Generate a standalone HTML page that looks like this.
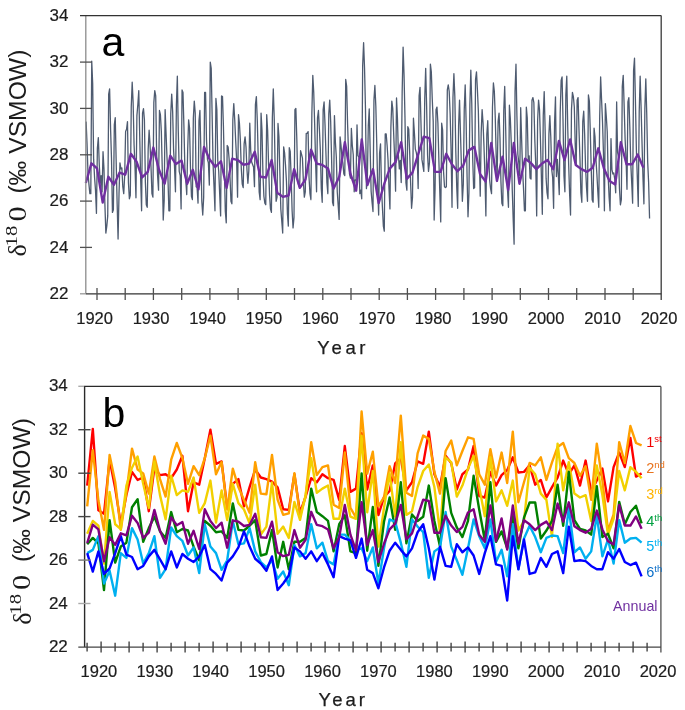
<!DOCTYPE html><html><head><meta charset="utf-8"><title>d18O chart</title><style>html,body{margin:0;padding:0;background:#fff;}svg{display:block;filter:blur(0.35px);}</style></head><body>
<svg width="685" height="710" viewBox="0 0 685 710">
<rect width="685" height="710" fill="#fff"/>
<polyline fill="none" stroke="#4e5b70" stroke-width="1.3" stroke-linejoin="round" points="86.10,121.64 87.04,143.87 87.98,173.06 88.92,184.17 89.86,193.67 90.80,193.67 91.74,61.19 92.68,83.89 93.63,159.39 94.57,177.46 95.51,190.19 96.45,213.35 97.39,148.04 98.33,137.62 99.27,164.49 100.21,183.25 101.15,175.60 102.09,191.82 103.03,151.75 103.97,168.89 104.91,204.79 105.85,233.04 106.79,226.09 107.74,215.90 108.68,94.08 109.62,88.99 110.56,128.36 111.50,158.47 112.44,212.43 113.38,209.88 114.32,124.65 115.26,117.70 116.20,162.87 117.14,203.86 118.08,239.06 119.02,193.67 119.96,162.87 120.90,168.89 121.85,167.96 122.79,186.72 123.73,193.67 124.67,175.60 125.61,131.60 126.55,129.28 127.49,121.64 128.43,182.55 129.37,198.76 130.31,195.29 131.25,107.05 132.19,82.27 133.13,102.65 134.07,144.80 135.01,167.03 135.96,197.84 136.90,115.62 137.84,104.50 138.78,90.61 139.72,136.23 140.66,179.08 141.60,210.81 142.54,113.07 143.48,108.67 144.42,119.79 145.36,181.63 146.30,204.79 147.24,207.33 148.18,148.97 149.12,130.21 150.07,145.50 151.01,167.03 151.95,193.67 152.89,197.14 153.83,102.65 154.77,90.61 155.71,95.93 156.65,154.76 157.59,175.60 158.53,190.19 159.47,110.52 160.41,114.69 161.35,131.83 162.29,170.51 163.23,220.07 164.18,200.39 165.12,109.60 166.06,133.45 167.00,157.54 167.94,177.46 168.88,210.81 169.82,210.81 170.76,113.77 171.70,94.08 172.64,111.22 173.58,149.90 174.52,166.34 175.46,191.82 176.40,104.50 177.34,76.25 178.29,131.83 179.23,171.44 180.17,175.60 181.11,208.95 182.05,89.91 182.99,92.46 183.93,126.74 184.87,167.96 185.81,180.70 186.75,194.60 187.69,148.97 188.63,119.79 189.57,128.36 190.51,169.58 191.45,196.22 192.40,199.69 193.34,118.17 194.28,101.03 195.22,113.07 196.16,186.72 197.10,187.65 198.04,203.16 198.98,120.71 199.92,110.52 200.86,150.82 201.80,201.31 202.74,214.98 203.68,197.14 204.62,92.46 205.56,92.46 206.51,140.40 207.45,159.39 208.39,162.87 209.33,185.10 210.27,62.12 211.21,68.37 212.15,116.31 213.09,164.49 214.03,186.72 214.97,210.81 215.91,98.48 216.85,109.60 217.79,161.01 218.73,171.44 219.67,193.67 220.62,215.90 221.56,95.93 222.50,96.63 223.44,126.74 224.38,170.51 225.32,211.50 226.26,222.85 227.20,145.50 228.14,147.12 229.08,158.47 230.02,177.46 230.96,201.31 231.90,203.86 232.84,119.79 233.78,103.58 234.73,119.79 235.67,140.63 236.61,159.39 237.55,197.14 238.49,114.69 239.43,123.26 240.37,140.40 241.31,168.89 242.25,184.17 243.19,187.65 244.13,143.87 245.07,136.93 246.01,147.12 246.95,169.58 247.89,183.25 248.84,170.51 249.78,123.26 250.72,150.59 251.66,161.94 252.60,164.49 253.54,167.03 254.48,186.72 255.42,104.50 256.36,96.63 257.30,120.71 258.24,158.47 259.18,191.82 260.12,199.69 261.06,113.07 262.00,130.21 262.95,173.98 263.89,196.22 264.83,203.16 265.77,204.79 266.71,114.69 267.65,130.91 268.59,165.41 269.53,194.60 270.47,208.95 271.41,212.43 272.35,117.47 273.29,88.99 274.23,118.40 275.17,168.89 276.11,201.31 277.06,197.14 278.00,123.49 278.94,136.70 279.88,173.06 280.82,208.95 281.76,221.00 282.70,233.04 283.64,146.89 284.58,152.91 285.52,165.41 286.46,181.63 287.40,213.35 288.34,226.09 289.28,147.58 290.22,151.29 291.17,177.46 292.11,210.81 293.05,227.95 293.99,217.52 294.93,109.60 295.87,108.44 296.81,139.01 297.75,181.63 298.69,185.10 299.63,187.65 300.57,150.59 301.51,154.07 302.45,158.23 303.39,181.63 304.33,197.14 305.28,191.82 306.22,133.45 307.16,133.45 308.10,131.60 309.04,177.46 309.98,193.67 310.92,199.69 311.86,113.77 312.80,75.32 313.74,92.46 314.68,124.88 315.62,162.87 316.56,191.82 317.50,118.17 318.44,110.52 319.39,129.28 320.33,149.90 321.27,188.57 322.21,202.24 323.15,109.60 324.09,101.96 325.03,124.88 325.97,154.30 326.91,182.55 327.85,193.67 328.79,113.77 329.73,100.10 330.67,121.64 331.61,159.39 332.55,202.24 333.50,205.71 334.44,115.62 335.38,142.02 336.32,157.08 337.26,191.82 338.20,205.71 339.14,219.38 340.08,136.93 341.02,145.50 341.96,157.08 342.90,162.87 343.84,173.98 344.78,175.60 345.72,79.49 346.66,86.44 347.61,124.88 348.55,153.37 349.49,173.98 350.43,178.15 351.37,128.36 352.31,145.50 353.25,154.76 354.19,191.82 355.13,180.00 356.07,180.00 357.01,124.88 357.95,155.69 358.89,157.08 359.83,193.67 360.77,190.19 361.72,198.76 362.66,65.83 363.60,42.67 364.54,68.37 365.48,108.67 366.42,188.57 367.36,178.15 368.30,125.81 369.24,108.90 370.18,150.13 371.12,191.12 372.06,202.24 373.00,211.50 373.94,100.10 374.88,85.51 375.83,106.12 376.77,144.57 377.71,187.65 378.65,214.98 379.59,153.14 380.53,143.87 381.47,186.72 382.41,207.33 383.35,226.09 384.29,231.19 385.23,133.92 386.17,133.92 387.11,145.50 388.05,160.32 388.99,188.57 389.94,208.95 390.88,127.43 391.82,101.03 392.76,108.67 393.70,134.38 394.64,157.77 395.58,191.12 396.52,98.02 397.46,118.86 398.40,154.76 399.34,168.89 400.28,160.32 401.22,182.55 402.16,92.46 403.10,47.07 404.05,75.32 404.99,118.17 405.93,182.55 406.87,190.19 407.81,126.74 408.75,129.28 409.69,152.91 410.63,183.25 411.57,208.26 412.51,197.14 413.45,118.17 414.39,132.76 415.33,148.97 416.27,152.44 417.21,157.77 418.16,188.57 419.10,95.93 420.04,87.36 420.98,123.26 421.92,159.39 422.86,165.41 423.80,171.44 424.74,98.48 425.68,68.37 426.62,106.12 427.56,154.99 428.50,171.44 429.44,162.87 430.38,64.20 431.32,71.85 432.27,99.18 433.21,121.64 434.15,220.07 435.09,188.57 436.03,109.60 436.97,107.05 437.91,123.26 438.85,159.39 439.79,191.82 440.73,221.92 441.67,123.26 442.61,130.21 443.55,171.44 444.49,186.72 445.43,187.65 446.38,186.72 447.32,89.91 448.26,84.82 449.20,91.53 450.14,113.77 451.08,149.90 452.02,207.33 452.96,97.55 453.90,73.70 454.84,96.63 455.78,150.82 456.72,186.72 457.66,208.26 458.60,125.81 459.54,100.10 460.49,133.45 461.43,166.34 462.37,201.31 463.31,184.17 464.25,109.60 465.19,84.82 466.13,121.64 467.07,176.53 468.01,216.83 468.95,192.74 469.89,104.50 470.83,70.23 471.77,103.58 472.71,159.39 473.65,188.57 474.60,187.65 475.54,79.49 476.48,71.85 477.42,89.91 478.36,111.22 479.30,157.77 480.24,196.22 481.18,132.76 482.12,109.60 483.06,123.26 484.00,147.12 484.94,175.60 485.88,215.90 486.82,134.38 487.76,120.71 488.71,154.30 489.65,180.00 490.59,188.57 491.53,193.67 492.47,107.05 493.41,82.96 494.35,91.53 495.29,118.17 496.23,157.77 497.17,175.60 498.11,121.64 499.05,113.07 499.99,138.55 500.93,181.63 501.87,203.16 502.82,205.71 503.76,110.52 504.70,86.44 505.64,126.74 506.58,170.51 507.52,190.19 508.46,207.33 509.40,105.20 510.34,118.86 511.28,143.18 512.22,188.57 513.16,218.45 514.10,244.16 515.04,91.53 515.98,64.20 516.93,116.31 517.87,154.30 518.81,162.87 519.75,175.60 520.69,107.75 521.63,139.47 522.57,169.58 523.51,188.57 524.45,210.81 525.39,210.81 526.33,107.05 527.27,118.17 528.21,159.39 529.15,155.92 530.09,178.15 531.04,179.08 531.98,100.10 532.92,97.55 533.86,102.65 534.80,139.71 535.74,164.49 536.68,215.90 537.62,120.71 538.56,100.10 539.50,109.60 540.44,139.71 541.38,176.53 542.32,214.28 543.26,115.62 544.20,91.53 545.15,130.21 546.09,178.15 547.03,192.74 547.97,198.76 548.91,134.38 549.85,115.62 550.79,136.93 551.73,169.58 552.67,177.46 553.61,208.26 554.55,123.26 555.49,96.86 556.43,176.53 557.37,159.39 558.31,174.91 559.26,194.60 560.20,113.07 561.14,80.42 562.08,76.94 563.02,120.71 563.96,175.60 564.90,191.82 565.84,95.01 566.78,76.25 567.72,126.74 568.66,164.49 569.60,193.67 570.54,214.98 571.48,109.60 572.42,92.46 573.37,96.63 574.31,107.05 575.25,145.73 576.19,165.41 577.13,100.10 578.07,97.55 579.01,130.21 579.95,158.47 580.89,192.74 581.83,202.24 582.77,121.64 583.71,111.22 584.65,134.38 585.59,167.96 586.53,187.65 587.48,201.31 588.42,95.01 589.36,101.03 590.30,131.83 591.24,169.58 592.18,199.69 593.12,202.24 594.06,128.13 595.00,136.93 595.94,159.39 596.88,173.98 597.82,191.82 598.76,207.33 599.70,116.31 600.64,76.94 601.59,100.10 602.53,122.34 603.47,153.37 604.41,210.81 605.35,103.58 606.29,116.31 607.23,131.83 608.17,176.53 609.11,197.14 610.05,210.81 610.99,138.55 611.93,169.58 612.87,173.98 613.81,173.06 614.75,179.08 615.70,192.74 616.64,101.96 617.58,152.44 618.52,157.08 619.46,188.57 620.40,204.79 621.34,199.69 622.28,86.44 623.22,75.32 624.16,106.12 625.10,139.01 626.04,158.47 626.98,189.27 627.92,101.96 628.86,97.55 629.81,126.74 630.75,162.87 631.69,182.55 632.63,203.16 633.57,70.92 634.51,58.18 635.45,101.96 636.39,149.90 637.33,178.15 638.27,206.41 639.21,112.15 640.15,76.25 641.09,107.05 642.03,143.18 642.97,177.46 643.92,203.86 644.86,108.67 645.80,78.80 646.74,113.77 647.68,161.94 648.62,182.55 649.56,218.45"/>
<polyline fill="none" stroke="#7030a0" stroke-width="2.4" stroke-linejoin="round" points="85.80,183.02 91.43,163.33 97.06,168.42 102.70,202.47 108.33,176.76 113.96,184.87 119.59,172.59 125.22,174.68 130.86,153.83 136.49,161.48 142.12,177.46 147.75,171.90 153.38,147.58 159.02,169.81 164.65,183.71 170.28,155.69 175.91,164.02 181.54,160.55 187.18,183.71 192.81,169.81 198.44,189.27 204.07,146.89 209.70,159.39 215.34,167.03 220.97,161.24 226.60,187.88 232.23,158.70 237.86,160.09 243.50,164.72 249.13,163.56 254.76,151.75 260.39,176.76 266.02,177.46 271.66,160.09 277.29,192.74 282.92,196.91 288.55,195.52 294.18,169.12 299.82,187.88 305.45,179.54 311.08,149.66 316.71,163.56 322.34,164.95 327.98,168.42 333.61,188.57 339.24,176.76 344.87,142.25 350.50,173.98 356.14,190.66 361.77,139.47 367.40,185.10 373.03,169.12 378.66,203.16 384.30,183.71 389.93,168.42 395.56,162.17 401.19,142.25 406.82,178.85 412.46,172.59 418.09,154.53 423.72,136.70 429.35,138.08 434.98,171.90 440.62,171.90 446.25,153.83 451.88,164.26 457.51,171.20 463.14,165.65 468.78,150.36 474.41,146.89 480.04,173.98 485.67,181.63 491.30,142.95 496.94,180.93 502.57,156.61 508.20,189.96 513.83,142.95 519.46,183.71 525.10,158.70 530.73,162.87 536.36,169.12 541.99,163.56 547.62,160.09 553.26,169.12 558.89,140.86 564.52,160.09 570.15,139.47 575.78,164.95 581.42,169.12 587.05,171.90 592.68,167.73 598.31,148.28 603.94,168.42 609.58,180.93 615.21,184.40 620.84,142.25 626.47,164.26 632.10,164.26 637.74,154.53 643.37,167.73"/>
<g fill="none" stroke-width="1.3">
<path stroke="#8c8c8c" d="M85.8 293.8 V15.6"/>
<path stroke="#333" d="M80 15.6 H661.2"/>
<path stroke="#3a3a3a" d="M661.2 15.6 V300.0"/>
<path stroke="#333" d="M85.8 293.8 H661.2"/>
<path stroke="#999" d="M80 293.8 H85.8"/>
<path stroke="#505050" d="M80 247.4 H92"/>
<path stroke="#505050" d="M80 201.1 H92"/>
<path stroke="#505050" d="M80 154.8 H92"/>
<path stroke="#505050" d="M80 108.4 H92"/>
<path stroke="#505050" d="M80 62.1 H92"/>
<path stroke="#505050" d="M97.0 288 V300"/>
<path stroke="#505050" d="M125.2 288 V300"/>
<path stroke="#505050" d="M153.4 288 V300"/>
<path stroke="#505050" d="M181.7 288 V300"/>
<path stroke="#505050" d="M209.9 288 V300"/>
<path stroke="#505050" d="M238.1 288 V300"/>
<path stroke="#505050" d="M266.3 288 V300"/>
<path stroke="#505050" d="M294.5 288 V300"/>
<path stroke="#505050" d="M322.8 288 V300"/>
<path stroke="#505050" d="M351.0 288 V300"/>
<path stroke="#505050" d="M379.2 288 V300"/>
<path stroke="#505050" d="M407.4 288 V300"/>
<path stroke="#505050" d="M435.6 288 V300"/>
<path stroke="#505050" d="M463.9 288 V300"/>
<path stroke="#505050" d="M492.1 288 V300"/>
<path stroke="#505050" d="M520.3 288 V300"/>
<path stroke="#505050" d="M548.5 288 V300"/>
<path stroke="#505050" d="M576.7 288 V300"/>
<path stroke="#505050" d="M605.0 288 V300"/>
<path stroke="#505050" d="M633.2 288 V300"/>
</g>
<g font-family="Liberation Sans, sans-serif" font-size="17" fill="#1c1c1c" stroke="#1c1c1c" stroke-width="0.2" text-anchor="end">
<text x="68.5" y="298.9">22</text>
<text x="68.5" y="252.6">24</text>
<text x="68.5" y="206.3">26</text>
<text x="68.5" y="160.0">28</text>
<text x="68.5" y="113.6">30</text>
<text x="68.5" y="67.3">32</text>
<text x="68.5" y="21.0">34</text>
</g>
<g font-family="Liberation Sans, sans-serif" font-size="16.5" fill="#1c1c1c" stroke="#1c1c1c" stroke-width="0.2" text-anchor="middle">
<text x="94.6" y="323.8">1920</text>
<text x="151.0" y="323.8">1930</text>
<text x="207.5" y="323.8">1940</text>
<text x="263.9" y="323.8">1950</text>
<text x="320.4" y="323.8">1960</text>
<text x="376.8" y="323.8">1970</text>
<text x="433.2" y="323.8">1980</text>
<text x="489.7" y="323.8">1990</text>
<text x="546.1" y="323.8">2000</text>
<text x="602.6" y="323.8">2010</text>
<text x="659.0" y="323.8">2020</text>
</g>
<text font-family="Liberation Sans, sans-serif" font-size="18.5" letter-spacing="3.6" x="317.3" y="354.4" fill="#1c1c1c" stroke="#1c1c1c" stroke-width="0.25">Year</text>
<text font-family="Liberation Sans, sans-serif" font-size="41" x="101.5" y="55.5" fill="#000">a</text>
<g fill="#1c1c1c"><text font-family="Liberation Serif, serif" font-size="26" transform="translate(26.3 256.5) rotate(-90)">δ</text><text font-family="Liberation Serif, serif" font-size="16" transform="translate(16.6 246.4) rotate(-90) scale(1.3 1)">18</text><text font-family="Liberation Serif, serif" font-size="25" transform="translate(26.1 221.6) rotate(-90) scale(1.22 1)">0</text><text font-family="Liberation Sans, sans-serif" font-size="24.7" transform="translate(25.5 193.6) rotate(-90)">(‰ VSMOW)</text></g>
<polyline fill="none" stroke="#ff0000" stroke-width="2.4" stroke-linejoin="round" points="87.20,485.56 92.80,428.87 98.40,510.32 104.00,513.80 109.60,459.71 115.20,488.38 120.80,524.22 126.40,494.90 132.00,471.88 137.60,479.91 143.20,477.52 148.80,511.19 154.40,467.75 160.00,475.13 165.60,474.27 171.20,478.18 176.80,469.49 182.40,455.80 188.00,511.19 193.60,482.30 199.20,484.69 204.80,458.19 210.40,429.74 216.00,463.84 221.60,461.45 227.20,507.93 232.80,483.82 238.40,479.04 244.00,506.41 249.60,487.08 255.20,469.49 260.80,477.52 266.40,479.04 272.00,481.65 277.60,487.30 283.20,509.24 288.80,509.89 294.40,474.27 300.00,512.71 305.60,496.64 311.20,478.18 316.80,482.30 322.40,474.27 328.00,478.18 333.60,479.91 339.20,499.90 344.80,446.03 350.40,491.86 356.00,488.60 361.60,433.22 367.20,489.47 372.80,465.36 378.40,515.10 384.00,497.07 389.60,490.99 395.20,463.41 400.80,458.19 406.40,490.34 412.00,482.30 417.60,461.45 423.20,463.84 428.80,431.69 434.40,474.27 440.00,487.08 445.60,455.80 451.20,462.97 456.80,489.47 462.40,474.27 468.00,469.49 473.60,446.03 479.20,495.99 484.80,497.51 490.40,471.88 496.00,485.56 501.60,475.13 507.20,470.14 512.80,457.32 518.40,472.53 524.00,471.88 529.60,465.36 535.20,484.69 540.80,479.91 546.40,497.51 552.00,487.08 557.60,477.52 563.20,460.58 568.80,474.27 574.40,465.36 580.00,485.56 585.60,460.58 591.20,491.64 596.80,480.56 602.40,468.62 608.00,501.42 613.60,467.10 619.20,452.55 624.80,467.10 630.40,437.99 636.00,476.66 641.60,473.40"/>
<polyline fill="none" stroke="#ffa000" stroke-width="2.4" stroke-linejoin="round" points="87.20,506.41 92.80,450.16 98.40,500.55 104.00,529.87 109.60,454.94 115.20,481.87 120.80,529.87 126.40,492.73 132.00,448.64 137.60,469.49 143.20,473.40 148.80,493.60 154.40,456.46 160.00,479.04 165.60,496.64 171.20,459.71 176.80,442.99 182.40,458.19 188.00,483.82 193.60,466.23 199.20,475.13 204.80,458.19 210.40,435.60 216.00,474.27 221.60,462.10 227.20,509.45 232.80,468.62 238.40,487.08 244.00,499.90 249.60,512.71 255.20,462.10 260.80,493.60 266.40,494.25 272.00,454.94 277.60,499.68 283.20,514.88 288.80,513.36 294.40,473.18 300.00,515.97 305.60,496.64 311.20,442.12 316.80,475.13 322.40,467.10 328.00,465.36 333.60,504.67 339.20,507.93 344.80,452.55 350.40,507.93 356.00,517.49 361.60,411.50 367.20,473.61 372.80,451.68 378.40,506.41 384.00,497.07 389.60,466.23 395.20,482.95 400.80,415.62 406.40,492.73 412.00,495.99 417.60,453.41 423.20,435.60 428.80,438.86 434.40,471.88 440.00,493.60 445.60,451.03 451.20,440.60 456.80,465.36 462.40,451.03 468.00,437.34 473.60,438.86 479.20,474.27 484.80,484.69 490.40,449.29 496.00,477.52 501.60,452.55 507.20,482.95 512.80,431.69 518.40,502.28 524.00,482.30 529.60,462.97 535.20,465.36 540.80,457.32 546.40,479.91 552.00,462.32 557.60,446.90 563.20,442.99 568.80,458.19 574.40,462.97 580.00,475.79 585.60,466.23 591.20,499.90 596.80,443.64 602.40,480.56 608.00,530.52 613.60,514.45 619.20,442.12 624.80,462.97 630.40,426.05 636.00,442.99 641.60,445.38"/>
<polyline fill="none" stroke="#f2d000" stroke-width="2.4" stroke-linejoin="round" points="87.20,533.78 92.80,520.96 98.40,525.74 104.00,563.54 109.60,491.86 115.20,524.22 120.80,529.00 126.40,485.56 132.00,467.75 137.60,456.46 143.20,483.82 148.80,507.93 154.40,461.45 160.00,495.12 165.60,519.23 171.20,475.79 176.80,495.12 182.40,490.34 188.00,491.86 193.60,477.52 199.20,512.93 204.80,503.15 210.40,480.56 216.00,522.48 221.60,490.34 227.20,520.10 232.80,483.82 238.40,503.15 244.00,509.45 249.60,523.35 255.20,484.69 260.80,534.65 266.40,526.61 272.00,482.52 277.60,533.78 283.20,526.61 288.80,537.91 294.40,501.85 300.00,519.88 305.60,494.90 311.20,458.19 316.80,492.73 322.40,488.60 328.00,485.56 333.60,518.79 339.20,518.79 344.80,488.60 350.40,516.62 356.00,518.79 361.60,435.60 367.20,512.28 372.80,471.01 378.40,546.59 384.00,507.93 389.60,473.40 395.20,516.62 400.80,442.12 406.40,514.88 412.00,511.19 417.60,487.08 423.20,471.01 428.80,464.49 434.40,487.08 440.00,532.26 445.60,457.32 451.20,462.10 456.80,496.64 462.40,485.56 468.00,468.62 473.60,455.80 479.20,487.08 484.80,516.19 490.40,457.32 496.00,501.42 501.60,490.34 507.20,505.76 512.80,480.56 518.40,530.52 524.00,520.96 529.60,467.75 535.20,474.27 540.80,493.60 546.40,499.90 552.00,537.04 557.60,443.64 563.20,490.34 568.80,462.10 574.40,493.60 580.00,497.51 585.60,495.12 591.20,520.96 596.80,465.36 602.40,495.12 608.00,534.65 613.60,518.79 619.20,471.01 624.80,490.34 630.40,467.10 636.00,471.88 641.60,478.18"/>
<polyline fill="none" stroke="#008000" stroke-width="2.4" stroke-linejoin="round" points="87.20,544.20 92.80,537.91 98.40,543.34 104.00,590.03 109.60,520.10 115.20,562.67 120.80,546.59 126.40,542.68 132.00,507.28 137.60,499.24 143.20,541.82 148.80,528.13 154.40,516.62 160.00,531.39 165.60,537.91 171.20,512.06 176.80,532.26 182.40,529.00 188.00,530.52 193.60,546.59 199.20,560.28 204.80,520.96 210.40,525.74 216.00,532.26 221.60,531.39 227.20,537.91 232.80,503.37 238.40,529.87 244.00,530.52 249.60,525.74 255.20,520.10 260.80,555.50 266.40,553.98 272.00,529.87 277.60,567.44 283.20,541.82 288.80,569.18 294.40,541.82 300.00,541.82 305.60,537.91 311.20,488.60 316.80,512.06 322.40,516.19 328.00,520.96 333.60,551.37 339.20,524.22 344.80,515.32 350.40,551.37 356.00,553.11 361.60,473.40 367.20,550.72 372.80,507.06 378.40,565.92 384.00,521.83 389.60,497.51 395.20,529.87 400.80,482.30 406.40,543.34 412.00,514.45 417.60,520.96 423.20,516.84 428.80,485.56 434.40,520.96 440.00,546.59 445.60,478.18 451.20,512.93 456.80,527.48 462.40,537.04 468.00,520.96 473.60,475.79 479.20,509.45 484.80,540.29 490.40,482.30 496.00,541.82 501.60,531.39 507.20,548.33 512.80,516.19 518.40,548.33 524.00,517.71 529.60,502.50 535.20,502.50 540.80,538.56 546.40,530.52 552.00,520.96 557.60,484.69 563.20,525.74 568.80,471.88 574.40,520.10 580.00,529.00 585.60,530.52 591.20,534.65 596.80,486.21 602.40,537.04 608.00,533.78 613.60,548.33 619.20,501.85 624.80,524.22 630.40,512.06 636.00,505.76 641.60,523.35"/>
<polyline fill="none" stroke="#00b0f0" stroke-width="2.4" stroke-linejoin="round" points="87.20,553.11 92.80,549.85 98.40,536.17 104.00,583.52 109.60,570.70 115.20,595.68 120.80,553.11 126.40,557.89 132.00,528.13 137.60,539.43 143.20,563.54 148.80,553.11 154.40,536.17 160.00,577.87 165.60,569.18 171.20,527.48 176.80,536.17 182.40,540.95 188.00,555.50 193.60,547.46 199.20,573.09 204.80,524.22 210.40,546.59 216.00,553.11 221.60,569.83 227.20,560.28 232.80,520.96 238.40,544.20 244.00,543.34 249.60,528.13 255.20,551.37 260.80,562.01 266.40,567.44 272.00,560.28 277.60,578.74 283.20,571.57 288.80,585.26 294.40,545.07 300.00,556.37 305.60,553.11 311.20,524.22 316.80,548.33 322.40,542.68 328.00,561.15 333.60,564.40 339.20,534.65 344.80,534.65 350.40,540.29 356.00,549.85 361.60,548.33 367.20,561.15 372.80,547.46 378.40,583.52 384.00,548.33 389.60,519.44 395.20,521.83 400.80,542.68 406.40,566.79 412.00,519.44 417.60,526.61 423.20,532.26 428.80,577.87 434.40,551.37 440.00,547.46 445.60,512.06 451.20,546.59 456.80,560.28 462.40,574.83 468.00,548.33 473.60,519.44 479.20,536.17 484.80,548.33 490.40,519.44 496.00,562.01 501.60,549.85 507.20,576.35 512.80,524.22 518.40,569.18 524.00,538.56 529.60,525.74 535.20,537.04 540.80,552.24 546.40,537.91 552.00,535.52 557.60,536.17 563.20,553.11 568.80,508.15 574.40,552.24 580.00,547.46 585.60,558.76 591.20,551.37 596.80,515.32 602.40,556.37 608.00,539.43 613.60,563.54 619.20,520.10 624.80,542.68 630.40,538.56 636.00,537.91 641.60,542.68"/>
<polyline fill="none" stroke="#0000ff" stroke-width="2.4" stroke-linejoin="round" points="87.20,553.11 92.80,571.57 98.40,551.37 104.00,573.96 109.60,568.31 115.20,553.11 120.80,536.17 126.40,554.63 132.00,557.02 137.60,569.18 143.20,565.92 148.80,556.37 154.40,549.85 160.00,559.41 165.60,569.18 171.20,551.37 176.80,567.44 182.40,553.98 188.00,558.76 193.60,562.01 199.20,556.37 204.80,545.07 210.40,569.18 216.00,573.96 221.60,580.48 227.20,562.67 232.80,556.37 238.40,547.46 244.00,531.39 249.60,546.59 255.20,558.76 260.80,563.54 266.40,570.70 272.00,556.37 277.60,590.03 283.20,583.52 288.80,575.48 294.40,547.46 300.00,551.37 305.60,558.76 311.20,551.37 316.80,561.15 322.40,553.11 328.00,564.40 333.60,577.22 339.20,536.17 344.80,538.56 350.40,540.29 356.00,557.89 361.60,538.56 367.20,569.83 372.80,573.09 378.40,588.30 384.00,567.44 389.60,550.72 395.20,542.68 400.80,549.85 406.40,556.37 412.00,548.33 417.60,532.26 423.20,524.22 428.80,548.33 434.40,579.61 440.00,546.59 445.60,565.92 451.20,566.79 456.80,544.20 462.40,552.24 468.00,547.46 473.60,555.50 479.20,573.96 484.80,553.11 490.40,536.17 496.00,564.40 501.60,565.92 507.20,600.46 512.80,536.17 518.40,569.18 524.00,539.43 529.60,573.96 535.20,572.44 540.80,557.89 546.40,566.79 552.00,553.98 557.60,551.37 563.20,573.09 568.80,526.61 574.40,561.15 580.00,560.28 585.60,561.15 591.20,565.92 596.80,569.18 602.40,569.18 608.00,552.24 613.60,558.76 619.20,548.98 624.80,562.01 630.40,565.06 636.00,562.67 641.60,576.35"/>
<polyline fill="none" stroke="#800080" stroke-width="2.4" stroke-linejoin="round" points="87.20,543.12 92.80,524.66 98.40,529.43 104.00,561.36 109.60,537.25 115.20,544.86 120.80,533.34 126.40,535.30 132.00,515.75 137.60,522.92 143.20,537.91 148.80,532.69 154.40,509.89 160.00,530.74 165.60,543.77 171.20,517.49 176.80,525.31 182.40,522.05 188.00,543.77 193.60,530.74 199.20,548.98 204.80,509.24 210.40,520.96 216.00,528.13 221.60,522.70 227.20,547.68 232.80,520.31 238.40,521.62 244.00,525.96 249.60,524.87 255.20,513.80 260.80,537.25 266.40,537.91 272.00,521.62 277.60,552.24 283.20,556.15 288.80,554.85 294.40,530.09 300.00,547.68 305.60,539.86 311.20,511.84 316.80,524.87 322.40,526.18 328.00,529.43 333.60,548.33 339.20,537.25 344.80,504.89 350.40,534.65 356.00,550.29 361.60,502.28 367.20,545.07 372.80,530.09 378.40,562.01 384.00,543.77 389.60,529.43 395.20,523.57 400.80,504.89 406.40,539.21 412.00,533.34 417.60,516.40 423.20,499.68 428.80,500.98 434.40,532.69 440.00,532.69 445.60,515.75 451.20,525.53 456.80,532.04 462.40,526.83 468.00,512.49 473.60,509.24 479.20,534.65 484.80,541.82 490.40,505.54 496.00,541.16 501.60,518.36 507.20,549.63 512.80,505.54 518.40,543.77 524.00,520.31 529.60,524.22 535.20,530.09 540.80,524.87 546.40,521.62 552.00,530.09 557.60,503.59 563.20,521.62 568.80,502.28 574.40,526.18 580.00,530.09 585.60,532.69 591.20,528.78 596.80,510.54 602.40,529.43 608.00,541.16 613.60,544.42 619.20,504.89 624.80,525.53 630.40,525.53 636.00,516.40 641.60,528.78"/>
<g fill="none" stroke-width="1.4">
<path stroke="#2a2a2a" d="M84.6 647.1 V386.4 H660.9"/>
<path stroke="#5a5a5a" d="M660.9 386.4 V652.6"/>
<path stroke="#444" d="M78.3 647.1 H660.9"/>
<path stroke="#aaa" d="M78.3 386.3 H84.1"/>
<path stroke="#aaa" d="M78.3 603.5 H90.5"/>
<path stroke="#777" d="M78.3 560.1 H90.5"/>
<path stroke="#444" d="M78.3 516.6 H90.5"/>
<path stroke="#444" d="M78.3 473.2 H90.5"/>
<path stroke="#444" d="M78.3 429.7 H90.5"/>
<path stroke="#444" d="M87.1 642.8 V651.5"/>
<path stroke="#444" d="M101.1 641.4 V652.6"/>
<path stroke="#444" d="M115.1 642.8 V651.5"/>
<path stroke="#444" d="M129.1 641.4 V652.6"/>
<path stroke="#444" d="M143.1 642.8 V651.5"/>
<path stroke="#444" d="M157.1 641.4 V652.6"/>
<path stroke="#444" d="M171.1 642.8 V651.5"/>
<path stroke="#444" d="M185.1 641.4 V652.6"/>
<path stroke="#444" d="M199.1 642.8 V651.5"/>
<path stroke="#444" d="M213.1 641.4 V652.6"/>
<path stroke="#444" d="M227.1 642.8 V651.5"/>
<path stroke="#444" d="M241.1 641.4 V652.6"/>
<path stroke="#444" d="M255.1 642.8 V651.5"/>
<path stroke="#444" d="M269.1 641.4 V652.6"/>
<path stroke="#444" d="M283.1 642.8 V651.5"/>
<path stroke="#444" d="M297.1 641.4 V652.6"/>
<path stroke="#444" d="M311.1 642.8 V651.5"/>
<path stroke="#444" d="M325.1 641.4 V652.6"/>
<path stroke="#444" d="M339.1 642.8 V651.5"/>
<path stroke="#444" d="M353.1 641.4 V652.6"/>
<path stroke="#444" d="M367.1 642.8 V651.5"/>
<path stroke="#444" d="M381.1 641.4 V652.6"/>
<path stroke="#444" d="M395.1 642.8 V651.5"/>
<path stroke="#444" d="M409.1 641.4 V652.6"/>
<path stroke="#444" d="M423.1 642.8 V651.5"/>
<path stroke="#444" d="M437.1 641.4 V652.6"/>
<path stroke="#444" d="M451.1 642.8 V651.5"/>
<path stroke="#444" d="M465.1 641.4 V652.6"/>
<path stroke="#444" d="M479.1 642.8 V651.5"/>
<path stroke="#444" d="M493.1 641.4 V652.6"/>
<path stroke="#444" d="M507.1 642.8 V651.5"/>
<path stroke="#444" d="M521.1 641.4 V652.6"/>
<path stroke="#444" d="M535.1 642.8 V651.5"/>
<path stroke="#444" d="M549.1 641.4 V652.6"/>
<path stroke="#444" d="M563.1 642.8 V651.5"/>
<path stroke="#444" d="M577.1 641.4 V652.6"/>
<path stroke="#444" d="M591.1 642.8 V651.5"/>
<path stroke="#444" d="M605.1 641.4 V652.6"/>
<path stroke="#444" d="M619.1 642.8 V651.5"/>
<path stroke="#444" d="M633.1 641.4 V652.6"/>
<path stroke="#444" d="M647.1 642.8 V651.5"/>
</g>
<g font-family="Liberation Sans, sans-serif" font-size="17" fill="#1c1c1c" stroke="#1c1c1c" stroke-width="0.2" text-anchor="end">
<text x="67.8" y="652.0">22</text>
<text x="67.8" y="608.6">24</text>
<text x="67.8" y="565.2">26</text>
<text x="67.8" y="521.7">28</text>
<text x="67.8" y="478.3">30</text>
<text x="67.8" y="434.8">32</text>
<text x="67.8" y="391.4">34</text>
</g>
<g font-family="Liberation Sans, sans-serif" font-size="16.5" fill="#1c1c1c" stroke="#1c1c1c" stroke-width="0.2" text-anchor="middle">
<text x="98.9" y="676.8">1920</text>
<text x="154.8" y="676.8">1930</text>
<text x="210.7" y="676.8">1940</text>
<text x="266.6" y="676.8">1950</text>
<text x="322.5" y="676.8">1960</text>
<text x="378.4" y="676.8">1970</text>
<text x="434.4" y="676.8">1980</text>
<text x="490.3" y="676.8">1990</text>
<text x="546.2" y="676.8">2000</text>
<text x="602.1" y="676.8">2010</text>
<text x="658.0" y="676.8">2020</text>
</g>
<text font-family="Liberation Sans, sans-serif" font-size="18.5" letter-spacing="3.0" x="318.6" y="705.5" fill="#1c1c1c" stroke="#1c1c1c" stroke-width="0.25">Year</text>
<text font-family="Liberation Sans, sans-serif" font-size="41" x="102.5" y="427" fill="#000">b</text>
<g fill="#1c1c1c"><text font-family="Liberation Serif, serif" font-size="26" transform="translate(30.5 624.8) rotate(-90)">δ</text><text font-family="Liberation Serif, serif" font-size="16" transform="translate(20.8 614.7) rotate(-90) scale(1.3 1)">18</text><text font-family="Liberation Serif, serif" font-size="25" transform="translate(30.3 589.9) rotate(-90) scale(1.22 1)">0</text><text font-family="Liberation Sans, sans-serif" font-size="24.7" transform="translate(29.7 561.9) rotate(-90)">(‰ VSMOW)</text></g>
<text font-family="Liberation Sans, sans-serif" x="646.2" y="447.3" fill="#f00000" font-size="14.5">1<tspan font-size="9.5" dy="-5">st</tspan></text>
<text font-family="Liberation Sans, sans-serif" x="646.2" y="473.3" fill="#e8731e" font-size="14.5">2<tspan font-size="9.5" dy="-5">nd</tspan></text>
<text font-family="Liberation Sans, sans-serif" x="646.2" y="499.1" fill="#ffb400" font-size="14.5">3<tspan font-size="9.5" dy="-5">rd</tspan></text>
<text font-family="Liberation Sans, sans-serif" x="646.2" y="525.6" fill="#00a040" font-size="14.5">4<tspan font-size="9.5" dy="-5">th</tspan></text>
<text font-family="Liberation Sans, sans-serif" x="646.2" y="550.9" fill="#00b0f0" font-size="14.5">5<tspan font-size="9.5" dy="-5">th</tspan></text>
<text font-family="Liberation Sans, sans-serif" x="646.2" y="576.8" fill="#0a6ec8" font-size="14.5">6<tspan font-size="9.5" dy="-5">th</tspan></text>
<text font-family="Liberation Sans, sans-serif" x="613" y="610.7" fill="#7030a0" font-size="14.3">Annual</text>
</svg></body></html>
